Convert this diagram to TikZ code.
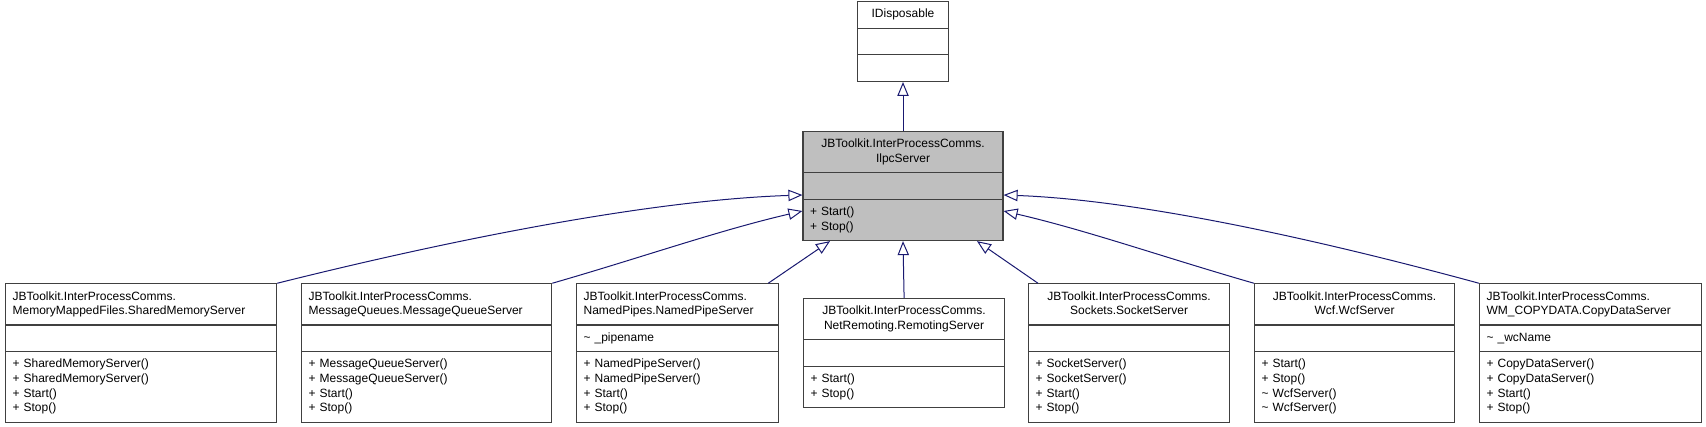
\documentclass[tikz,border=0pt]{standalone}
\usepackage{fontspec}
\setmainfont{Liberation Sans}
\usetikzlibrary{positioning,arrows.meta,calc,shapes.multipart}

\definecolor{edgeblue}{HTML}{191970}
\definecolor{boxline}{HTML}{404040}
\definecolor{boxfill}{HTML}{BFBFBF}
\newcommand\umltext[1]{\strut#1\strut}
\newcommand\umltitle[1]{\parbox{\hsize}{\centering\strut#1\strut}}

\begin{document}
\begin{tikzpicture}[
    x=0.75pt, y=-0.75pt,
    every node/.style={font=\fontsize{9}{11}\selectfont},
    umlclass/.style={rectangle split, rectangle split parts=3, draw=boxline, line width=0.9pt,
      fill=white, align=left, inner xsep=5.25pt, inner ysep=4pt},
    inherit/.style={draw=edgeblue, line width=0.75pt, -{Triangle[open, length=10.5pt, width=8.5pt]}}
  ]
    \useasboundingbox (0,0) rectangle (1706,427);

    % base interface and the server interface
    \node[umlclass, fill=boxfill, text width=139.5pt, anchor=north] (ilpc) at (903,131)
      {\umltitle{JBToolkit.InterProcessComms.\\IlpcServer}\nodepart{two}\strut
       \nodepart{three}\umltext{+ Start()\\+ Stop()}};
    \node[umlclass, align=none, minimum width=68pt, above=36.75pt of ilpc] (idisp)
      {\umltext{IDisposable}\nodepart{two}\strut\nodepart{three}\strut};

    % implementations
    \node[umlclass, text width=192.75pt, anchor=west] (shmem) at (5,353)
      {\umltext{JBToolkit.InterProcessComms.\\MemoryMappedFiles.SharedMemoryServer}\nodepart{two}\strut
       \nodepart{three}\umltext{+ SharedMemoryServer()\\+ SharedMemoryServer()\\+ Start()\\+ Stop()}};
    \node[umlclass, text width=177pt, anchor=west] (msgq) at (301,353)
      {\umltext{JBToolkit.InterProcessComms.\\MessageQueues.MessageQueueServer}\nodepart{two}\strut
       \nodepart{three}\umltext{+ MessageQueueServer()\\+ MessageQueueServer()\\+ Start()\\+ Stop()}};
    \node[umlclass, text width=141pt, anchor=west] (pipe) at (576,353)
      {\umltext{JBToolkit.InterProcessComms.\\NamedPipes.NamedPipeServer}\nodepart{two}\umltext{\textasciitilde{} \_pipename}
       \nodepart{three}\umltext{+ NamedPipeServer()\\+ NamedPipeServer()\\+ Start()\\+ Stop()}};
    \node[umlclass, text width=140.25pt, anchor=west] (remoting) at (803,353)
      {\umltitle{JBToolkit.InterProcessComms.\\NetRemoting.RemotingServer}\nodepart{two}\strut
       \nodepart{three}\umltext{+ Start()\\+ Stop()}};
    \node[umlclass, text width=140.25pt, anchor=west] (sock) at (1028,353)
      {\umltitle{JBToolkit.InterProcessComms.\\Sockets.SocketServer}\nodepart{two}\strut
       \nodepart{three}\umltext{+ SocketServer()\\+ SocketServer()\\+ Start()\\+ Stop()}};
    \node[umlclass, text width=139.5pt, anchor=west] (wcf) at (1254,353)
      {\umltitle{JBToolkit.InterProcessComms.\\Wcf.WcfServer}\nodepart{two}\strut
       \nodepart{three}\umltext{+ Start()\\+ Stop()\\\textasciitilde{} WcfServer()\\\textasciitilde{} WcfServer()}};
    \node[umlclass, text width=156pt, anchor=west] (copy) at (1479,353)
      {\umltext{JBToolkit.InterProcessComms.\\WM\_COPYDATA.CopyDataServer}\nodepart{two}\umltext{\textasciitilde{} \_wcName}
       \nodepart{three}\umltext{+ CopyDataServer()\\+ CopyDataServer()\\+ Start()\\+ Stop()}};

    \draw[inherit] (ilpc.north) -- (idisp.south);
    \draw[inherit] (shmem.north east) .. controls (450,240) and (650,200) .. ($(ilpc.north west)+(0,64)$);
    \draw[inherit] (msgq.north east) .. controls (640,258) and (720,230) .. ($(ilpc.north west)+(0,80)$);
    \draw[inherit] ($(pipe.north east)+(-11,0)$) -- ($(ilpc.south)+(-73,0)$);
    \draw[inherit] (remoting.north) -- (ilpc.south);
    \draw[inherit] ($(sock.north west)+(10,0)$) -- ($(ilpc.south)+(74,0)$);
    \draw[inherit] (wcf.north west) .. controls (1166,258) and (1086,230) .. ($(ilpc.north east)+(0,80)$);
    \draw[inherit] (copy.north west) .. controls (1320,240) and (1140,200) .. ($(ilpc.north east)+(0,64)$);
  \end{tikzpicture}
\end{document}
